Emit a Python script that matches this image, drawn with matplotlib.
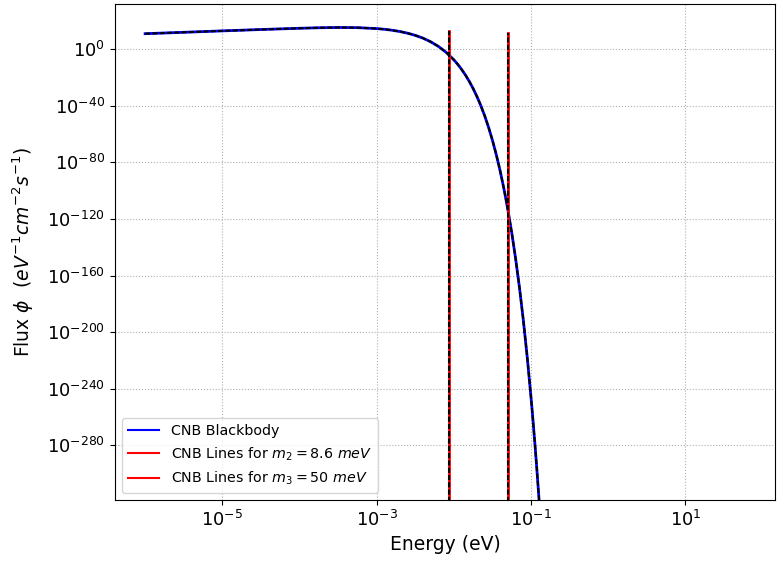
import numpy as np
import matplotlib
matplotlib.use("Agg")
import matplotlib.pyplot as plt
from matplotlib.ticker import FixedLocator, NullLocator

# CNB blackbody flux (log10 values)
log_energy = [-6.0, -5.5, -5.0, -4.5, -4.0, -3.75, -3.5, -3.25, -3.0, -2.9,
              -2.8, -2.7, -2.6, -2.5, -2.4, -2.3, -2.2, -2.1, -2.0, -1.95,
              -1.9, -1.85, -1.8, -1.75, -1.7, -1.65, -1.6, -1.55, -1.5, -1.45,
              -1.4, -1.35, -1.3, -1.25, -1.2, -1.15, -1.1, -1.05, -1.0, -0.975,
              -0.95, -0.925, -0.9, -0.895]
log_flux = [11.0, 11.99, 12.99, 13.95, 14.84, 15.20, 15.40, 15.28, 14.62, 14.13,
            13.45, 12.55, 11.37, 9.83, 7.84, 5.27, 2.0, -2.18, -7.49, -10.66,
            -14.23, -18.24, -22.76, -27.84, -33.55, -39.98, -47.19, -55.30, -64.42, -74.65,
            -86.15, -99.07, -113.57, -129.85, -148.13, -168.66, -191.7, -217.57, -246.6, -262.42,
            -279.2, -296.95, -315.8, -319.66]

# CNB lines: energy (eV) and top of the line (log10 flux)
line_energy = [8.6e-3, 5e-2]
line_top = [12.9, 11.3]
line_labels = [r'CNB Lines for $m_2 = 8.6\ meV$', r'CNB Lines for $m_3 = 50\ meV$']
line_bottom = -320.0

E = np.power(10.0, log_energy)
phi = np.power(10.0, log_flux)

dash = (0, (2.5, 1.0))

fig = plt.figure(figsize=(7.77, 5.63), dpi=100)
ax = fig.add_axes([115/777, 1 - 500/563, 660/777, 496/563])

ax.plot(E, phi, color='b', lw=2.0, label='CNB Blackbody')
ax.plot(E, phi, color='k', ls=dash, lw=1.5)
for e, top, lab in zip(line_energy, line_top, line_labels):
    ys = [10.0**line_bottom, 10.0**top]
    ax.plot([e, e], ys, color='r', lw=2.0, label=lab)
    ax.plot([e, e], ys, color='k', ls=dash, lw=1.5)

ax.set_xscale('log')
ax.set_yscale('log')
ax.set_xlim(10.0**-6.39, 10.0**2.16)
ax.set_ylim(10.0**-318.7, 10.0**32)

ax.xaxis.set_major_locator(FixedLocator([1e-5, 1e-3, 1e-1, 1e1]))
ax.xaxis.set_minor_locator(NullLocator())
ax.yaxis.set_major_locator(FixedLocator([10.0**k for k in range(0, -281, -40)]))
ax.yaxis.set_minor_locator(NullLocator())
ax.tick_params(labelsize=12.8)

ax.set_xlabel('Energy (eV)', fontsize=13.5)
ax.set_ylabel(r'Flux $\phi$  ($eV^{-1}cm^{-2}s^{-1}$)', fontsize=13.5, labelpad=8)
ax.grid(True, ls=':', color='#b0b0b0', lw=0.8)
leg = ax.legend(loc='lower left', fontsize=10.3, handlelength=2.2)
for h in leg.get_lines():
    h.set_linewidth(1.5)

fig.savefig('out.png', dpi=100)
